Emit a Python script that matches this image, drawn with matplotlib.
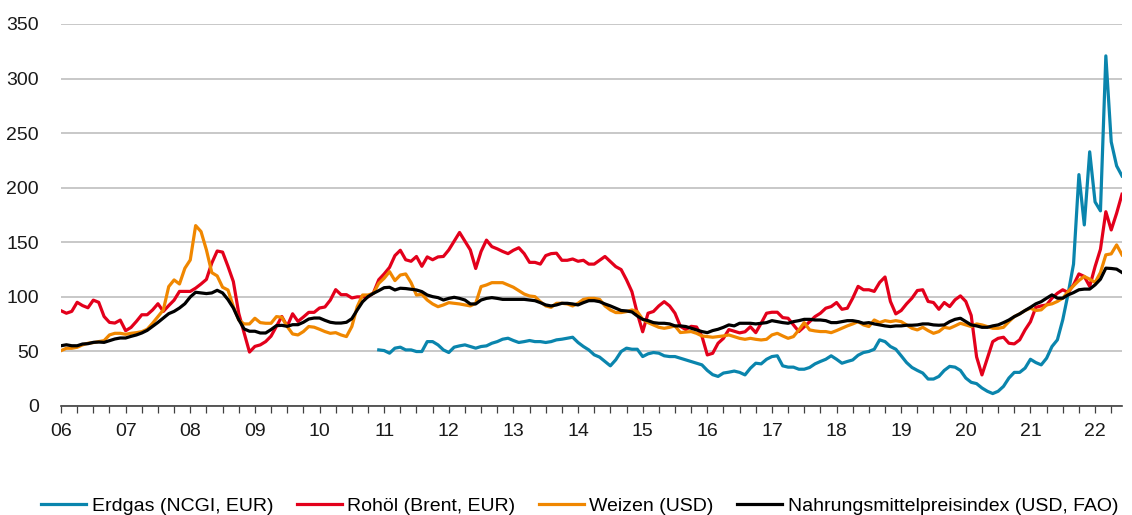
import matplotlib.pyplot as plt
import numpy as np

plt.rcParams['font.family'] = ['Liberation Sans Narrow', 'Liberation Sans', 'DejaVu Sans']

# monthly values, Jan 2006 .. Jun 2022
erdgas = [None] * 59 + [
    51.4,
    50.8, 48.4, 53, 53.9, 51.4, 51.4, 49.9, 49.9, 59, 59, 56, 51.4,
    49, 53.9, 55.1, 56, 54.5, 53, 54.5, 55.1, 57.5, 59, 61.2, 62.1,
    60, 58.2, 59, 60, 59, 59, 58.2, 59, 60.6, 61.2, 62.1, 63,
    58.2, 54.5, 51.4, 46.9, 44.8, 40.8, 36.8, 42.3, 49.9, 53, 52, 52,
    45.3, 47.8, 49, 48.4, 46, 45.3, 45.3, 43.8, 42.3, 40.8, 39.2, 37.7,
    32.6, 28.7, 27.1, 30.2, 31, 32, 30.8, 28.5, 34.6, 39.2, 38.6, 42.8,
    45.3, 46, 36.8, 35.6, 35.6, 33.7, 33.7, 35.3, 38.6, 40.8, 42.8, 46,
    42.8, 39.2, 40.8, 42.2, 46.5, 49, 50, 52, 60.6, 59, 54.5, 52,
    46, 39.8, 35.3, 32.6, 30.2, 24.7, 24.7, 27.1, 32.6, 36.3, 35.6, 32.6,
    25.6, 21.7, 20.5, 16.5, 13.5, 11.4, 13.5, 18, 25.6, 30.8, 30.8, 34.7,
    42.8, 39.8, 37.7, 43.8, 54.5, 60.6, 79, 103, 130, 212, 165.9, 232.9,
    187, 178.8, 320.8, 242, 220, 210.8]

rohoel = [
    87.3, 85, 86.7, 95, 92, 90, 97, 95, 82, 76.6, 76, 78.7,
    69, 72, 77.5, 83.6, 83.6, 88, 93.7, 86.7, 92, 97, 105, 105,
    105, 108, 111.8, 116, 131, 142, 141, 128, 114, 85, 67, 49.4,
    54.6, 56, 59, 64, 73, 82, 73, 84.5, 77.5, 81.5, 85.8, 85.8,
    89.8, 90.7, 97, 106.6, 102, 102, 99, 100, 100, 100, 103.5, 115.7,
    121, 127, 137.8, 142.7, 134, 132.6, 137, 128, 136.6, 134, 136.6, 137,
    143, 151, 159, 151, 143, 126, 141.6, 152, 146, 144, 141.6, 139.6,
    142.7, 145, 139.6, 131.6, 131.6, 130, 137.8, 139.6, 140, 133.5, 133.5, 134.7,
    132.6, 133.5, 130, 130, 133.5, 137, 132.3, 127.7, 125, 115.6, 104.8, 85,
    68, 85, 86.6, 91.7, 95.6, 91.7, 85, 73, 70, 73, 72.4, 64,
    46.8, 48.3, 57.5, 62, 70, 68.5, 67, 68, 72.6, 67.2, 75.8, 85,
    85.9, 85.9, 81, 80.4, 74.3, 68.2, 72.6, 77.2, 81.9, 85, 89.6, 91.1,
    94.8, 88.6, 89.6, 98.8, 109.6, 106.5, 106.5, 105, 113.2, 118.2, 95.8, 84.4,
    87.5, 93.6, 98.8, 105.8, 106.5, 95.8, 94.8, 88.6, 94.8, 91.1, 97.3, 100.9,
    95.8, 83, 45, 28.5, 43.8, 59, 62, 63, 57.5, 56.9, 60.6, 69.7,
    77.2, 90.4, 91.7, 92.6, 98.8, 103.3, 106.5, 104, 111, 121, 118.7, 109.6,
    127.7, 143.6, 178, 161.3, 176.6, 194]

weizen = [
    50.7, 52.9, 52.9, 53.8, 56, 57.5, 58.1, 59, 59.9, 65.1, 66.6, 66.6,
    65.7, 66.6, 67.2, 68.1, 70.3, 75.8, 81.9, 88, 109.4, 115.5, 111.8, 126.2,
    133.8, 165.3, 159.8, 143, 122.2, 119.2, 108.8, 106.3, 91.1, 78.8, 75.2, 75.2,
    80.4, 76.4, 75.8, 75.8, 81.9, 81.3, 72.8, 66, 65.1, 68.2, 72.8, 72.2,
    70.3, 68.2, 66.6, 67.2, 65.1, 63.6, 72.8, 91, 101.7, 101.7, 103.2, 112.4,
    117, 123.1, 114.9, 120, 121, 113, 101.7, 102.3, 97.1, 93.5, 91, 92.6,
    94.7, 94.1, 93.5, 92.6, 91.7, 94.1, 109.4, 110.9, 113, 113, 113, 110.9,
    108.8, 105.7, 102.6, 100.8, 100.2, 95.6, 91.7, 90.4, 94.1, 94.1, 93.5, 91.7,
    94.1, 97.7, 98.6, 98.6, 97.7, 91.7, 88, 85.6, 85.6, 86.5, 88, 86.5,
    79.5, 76.4, 74.3, 72.1, 71.2, 72.1, 73.4, 67.3, 67.8, 68.2, 66.6, 64.2,
    63.6, 63, 63.6, 64.2, 65.1, 63.6, 62, 61.1, 62, 61.1, 60.5, 61.1,
    65.1, 66.6, 64.2, 62, 63.6, 69.7, 76.4, 69.7, 68.8, 68.2, 68.2, 67.2,
    69.1, 71.2, 73.4, 75.2, 77.3, 74.3, 72.8, 78.8, 76.4, 78.2, 77.3, 78.2,
    77.3, 74.3, 71.2, 69.7, 72.1, 69.1, 66.6, 68.2, 72.1, 71.2, 73.4, 75.8,
    74.3, 72.8, 75.2, 74.3, 72.8, 71.2, 71.2, 72.1, 77.3, 81.9, 84.4, 87.5,
    89.6, 87.5, 88.1, 92.6, 93.6, 95.8, 98.8, 104.9, 110.1, 115, 118.7, 116.2,
    113.2, 122.3, 138.5, 139.4, 147.6, 138.5]

fao = [
    55.2, 56.1, 55.2, 55.2, 56.8, 57.1, 58.3, 58.6, 58.3, 59.8, 61.4, 62.3,
    62.3, 63.8, 65.1, 66.9, 69.3, 73, 76.6, 80.6, 84.6, 86.7, 89.8, 93.7,
    99.9, 104.2, 103.6, 103, 103.6, 106, 103.6, 97.5, 89.8, 79.1, 70.6, 68.5,
    68.5, 66.9, 66.9, 70, 73.6, 73.9, 73, 74.5, 74.5, 76.7, 79.7, 80.6,
    80.6, 78.5, 76.7, 76, 76, 76.7, 80, 88, 95.5, 100.2, 103.2, 105.7,
    108.4, 108.8, 106.3, 107.9, 107.6, 106.9, 106.3, 104.8, 101.7, 100.2, 99.3, 97.1,
    98.6, 99.6, 98.6, 97.1, 93.5, 93.5, 97.1, 98.6, 99.3, 98.6, 97.7, 97.7,
    97.7, 97.7, 97.7, 97.1, 96.5, 94.7, 92.6, 91.7, 92.6, 94.1, 94.1, 93.5,
    92.6, 94.7, 96.5, 96.5, 95.6, 93.5, 91.7, 89.6, 87.5, 87.1, 86.2, 82.5,
    79.4, 78.2, 76.4, 75.8, 75.8, 75.2, 73.4, 73.4, 72.8, 71.3, 69.7, 68.2,
    67.2, 69.1, 70.3, 72.1, 74.3, 73.4, 75.8, 75.8, 75.8, 75.2, 75.8, 76.4,
    78.2, 77.3, 76.4, 75.8, 77.3, 78.2, 79.4, 79.4, 78.8, 78.8, 78.2, 76.4,
    76.4, 77.3, 78.2, 78.2, 77.3, 75.8, 76.4, 75.2, 74.3, 73.4, 72.8, 73.4,
    73.4, 74, 74, 74.3, 75.2, 75.2, 74.3, 74, 74.3, 77.3, 79.4, 80.4,
    77.3, 74.3, 73.4, 72.1, 72.1, 73.4, 74.3, 76.4, 78.8, 81.9, 84.4, 87.5,
    90.4, 93.6, 95.6, 98.8, 101.8, 98.8, 98.8, 101.8, 103.9, 106.5, 107.1, 107.1,
    111, 116.2, 126.3, 126, 125.4, 122.3]

year_labels = ['06', '07', '08', '09', '10', '11', '12', '13', '14', '15',
               '16', '17', '18', '19', '20', '21', '22']
series_names = ['Erdgas (NCGI, EUR)', 'Rohöl (Brent, EUR)', 'Weizen (USD)',
                'Nahrungsmittelpreisindex (USD, FAO)']
colors = ['#0a85ad', '#e3001b', '#f08700', '#000000']

months = np.arange(len(rohoel))

fig = plt.figure(figsize=(11.32, 5.15), dpi=100)
ax = fig.add_axes([61 / 1132, 1 - 406 / 515, (1122 - 61) / 1132, (406 - 24) / 515])

for vals, name, c in zip([erdgas, rohoel, weizen, fao], series_names, colors):
    y = np.array([np.nan if v is None else v for v in vals], dtype=float)
    ax.plot(months, y, color=c, lw=2.3, label=name, solid_joinstyle='round')

ax.set_ylim(0, 350)
ax.set_xlim(0, len(rohoel) - 1)
ax.set_yticks(range(0, 351, 50))
ax.yaxis.grid(True, color='#c4c4c4', lw=1.3)
ax.set_axisbelow(True)

ax.set_xticks(np.arange(0, len(rohoel), 3), minor=True)
ax.set_xticks(np.arange(0, 12 * len(year_labels), 12))
ax.set_xticklabels(year_labels)

for s in ['top', 'right', 'left']:
    ax.spines[s].set_visible(False)
ax.spines['bottom'].set_color('#404040')
ax.spines['bottom'].set_linewidth(1.2)

ax.tick_params(axis='y', length=0, pad=16, labelsize=14, colors='#1a1a1a')
ax.tick_params(axis='x', which='both', direction='out', length=5, width=0.9,
               color='#404040', pad=7, labelsize=14, labelcolor='#1a1a1a')

ax.legend(loc='lower center', bbox_to_anchor=(0.489, -0.305), ncol=4, frameon=False,
          fontsize=14, handlelength=2.3, handletextpad=0.3, columnspacing=1.2,
          borderaxespad=0)

plt.savefig('out.png', dpi=100)
